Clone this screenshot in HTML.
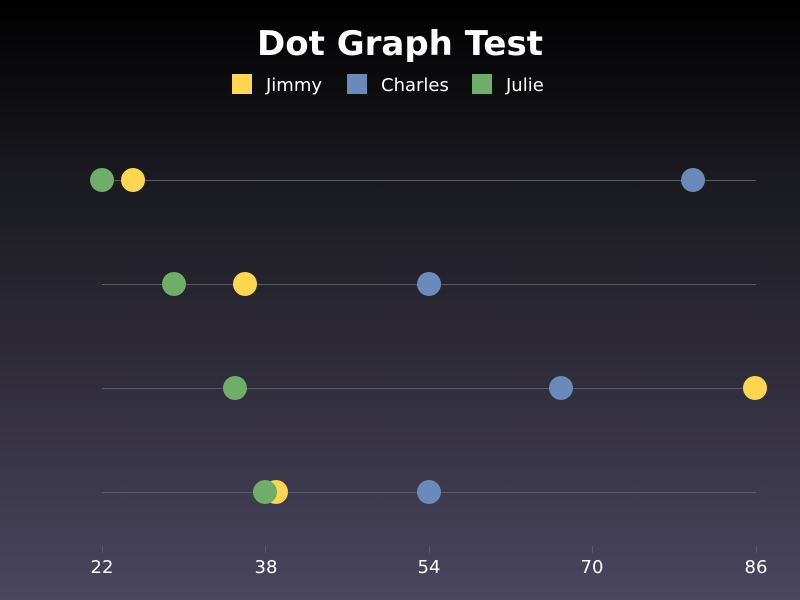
<!DOCTYPE html>
<html><head><style>
html,body{margin:0;padding:0}
body{width:800px;height:600px;overflow:hidden;background:linear-gradient(#000 0%,#1a1a20 30%,#2e2b38 60%,#4a4660 100%);font-family:"DejaVu Sans","Liberation Sans",sans-serif}
</style></head><body>
<svg width="800" height="600" xmlns="http://www.w3.org/2000/svg" style="position:absolute;left:0;top:0">
<text x="400" y="55" fill="#fff" font-size="34" font-weight="bold" text-anchor="middle" font-family="DejaVu Sans, sans-serif">Dot Graph Test</text>
<g font-size="18" fill="#fff" font-family="DejaVu Sans, sans-serif">
<rect x="232" y="74" width="20" height="20" fill="#ffd64f"/><text x="266" y="91">Jimmy</text>
<rect x="347" y="74" width="20" height="20" fill="#6a8abb"/><text x="381" y="91">Charles</text>
<rect x="472" y="74" width="20" height="20" fill="#6eae68"/><text x="506" y="91">Julie</text>
</g>
<g stroke="#5a5a62" stroke-width="1">
<line x1="102" y1="180.5" x2="756" y2="180.5"/>
<line x1="102" y1="284.5" x2="756" y2="284.5"/>
<line x1="102" y1="388.5" x2="756" y2="388.5"/>
<line x1="102" y1="492.5" x2="756" y2="492.5"/>
<line x1="102.5" y1="546" x2="102.5" y2="553"/>
<line x1="265.5" y1="546" x2="265.5" y2="553"/>
<line x1="429.5" y1="546" x2="429.5" y2="553"/>
<line x1="592.5" y1="546" x2="592.5" y2="553"/>
<line x1="756.5" y1="546" x2="756.5" y2="553"/>
</g>
<g>
<circle cx="133" cy="180" r="12" fill="#ffd64f"/><circle cx="693" cy="180" r="12" fill="#6a8abb"/><circle cx="102" cy="180" r="12" fill="#6eae68"/>
<circle cx="245" cy="284" r="12" fill="#ffd64f"/><circle cx="429" cy="284" r="12" fill="#6a8abb"/><circle cx="174" cy="284" r="12" fill="#6eae68"/>
<circle cx="755" cy="388" r="12" fill="#ffd64f"/><circle cx="561" cy="388" r="12" fill="#6a8abb"/><circle cx="235" cy="388" r="12" fill="#6eae68"/>
<circle cx="276" cy="492" r="12" fill="#ffd64f"/><circle cx="429" cy="492" r="12" fill="#6a8abb"/><circle cx="265" cy="492" r="12" fill="#6eae68"/>
</g>
<g font-size="18" fill="#fff" text-anchor="middle" font-family="DejaVu Sans, sans-serif">
<text x="102" y="573">22</text><text x="266" y="573">38</text><text x="429" y="573">54</text><text x="592" y="573">70</text><text x="756" y="573">86</text>
</g>
</svg>
</body></html>
